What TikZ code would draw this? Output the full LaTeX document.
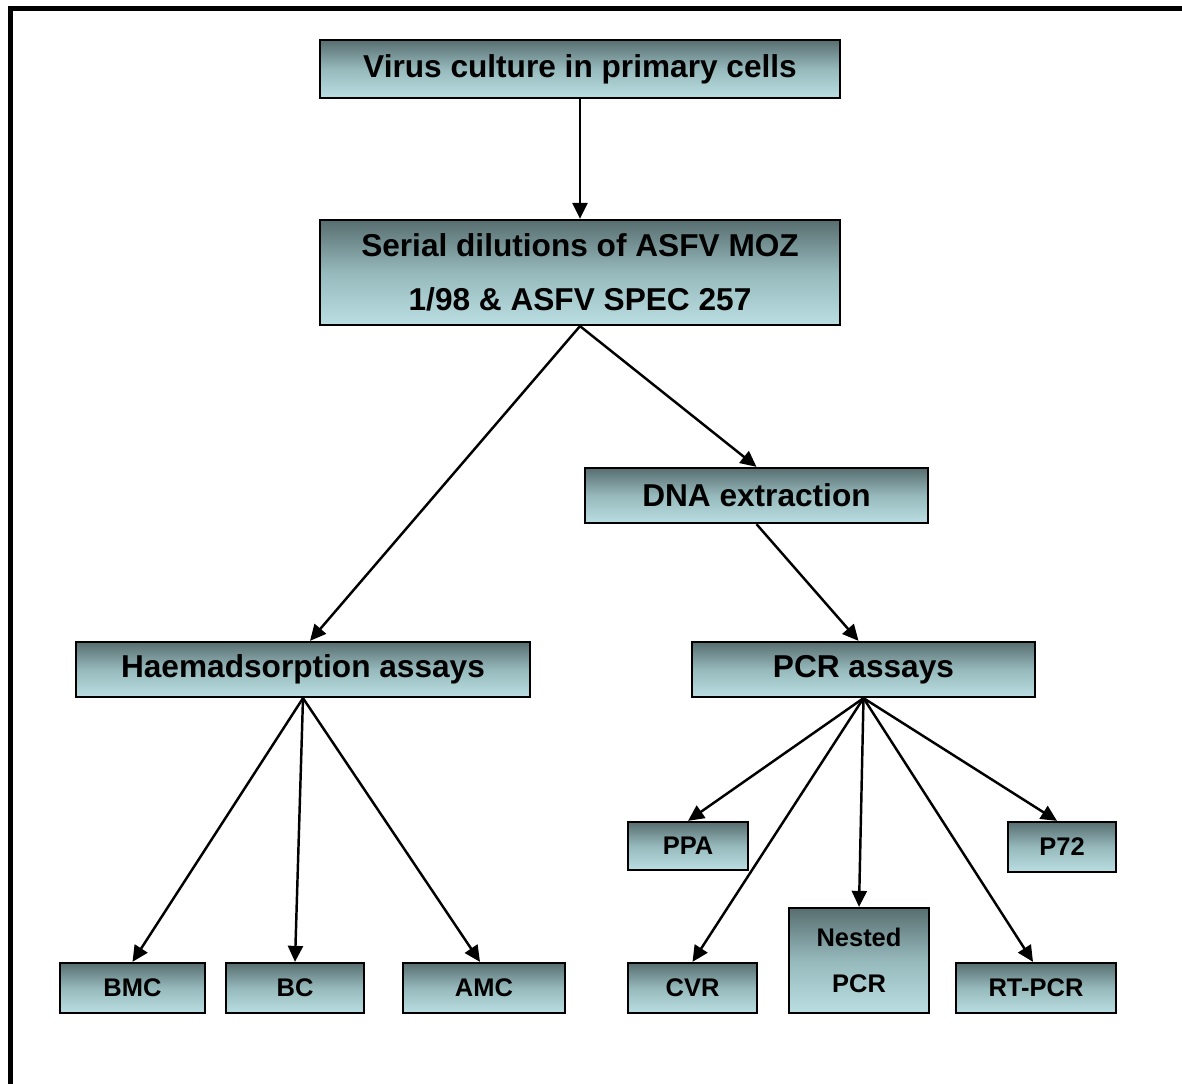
\documentclass[tikz,border=0pt]{standalone}
\usepackage{fontspec}
\setmainfont{Liberation Sans}
\usetikzlibrary{arrows.meta}
\definecolor{boxtop}{RGB}{88,110,112}
\definecolor{boxmid}{RGB}{150,185,188}
\definecolor{boxbot}{RGB}{186,222,225}
\begin{document}
\begin{tikzpicture}[x=0.02cm, y=-0.02cm, every node/.style={font=\bfseries\fontsize{18}{31}\selectfont}]
  \tikzstyle{box}=[draw,line width=1.3pt,inner sep=0pt,align=center,top color=boxtop,bottom color=boxbot,middle color=boxmid,minimum height=1.1cm]
  \tikzstyle{small}=[box,minimum height=1.0cm,font=\bfseries\fontsize{14.5}{26}\selectfont]
  \tikzstyle{arr}=[-{Triangle[length=0.32cm,width=0.3cm]},line width=1.4pt]
  \useasboundingbox (0,0) rectangle (1182,1084);
  \draw[line width=0.09cm] (10.3,1084) -- (10.3,8.3) -- (1182,8.3);
  % top of the chart
  \node[box,minimum width=10.4cm,minimum height=1.16cm] (virus) at (580,69) {Virus culture in primary cells};
  \node[box,minimum width=10.4cm,minimum height=2.1cm] (serial) at (580,272.5) {Serial dilutions of ASFV MOZ\\1/98 \& ASFV SPEC 257};
  \node[box,minimum width=6.86cm] (dna) at (756.5,495.5) {DNA extraction};
  \node[box,minimum width=9.08cm] (haem) at (303,669.5) {Haemadsorption assays};
  \node[box,minimum width=6.86cm] (pcr) at (863.5,669.5) {PCR assays};
  % haemadsorption branch
  \node[small,minimum width=2.9cm] (bmc) at (132.5,988) {BMC};
  \node[small,minimum width=2.76cm] (bc) at (295,988) {BC};
  \node[small,minimum width=3.24cm] (amc) at (484,988) {AMC};
  % PCR branch
  \node[small,minimum width=2.4cm,minimum height=0.96cm] (ppa) at (688,846) {PPA};
  \node[small,minimum width=2.16cm] (p72) at (1062,847) {P72};
  \node[small,minimum width=2.58cm] (cvr) at (692.5,988) {CVR};
  \node[small,minimum width=2.8cm,minimum height=2.1cm] (nested) at (859,960.5) {Nested\\PCR};
  \node[small,minimum width=3.2cm] (rtpcr) at (1036,988) {RT-PCR};
  \draw[arr] (virus) -- (serial);
  \draw[arr] (serial.south) -- ([xshift=0.14cm]haem.north);
  \draw[arr] (serial.south) -- (dna.north);
  \draw[arr] (dna.south) -- ([xshift=-0.1cm]pcr.north);
  \draw[arr] (haem.south) -- (bmc.north);
  \draw[arr] (haem.south) -- (bc.north);
  \draw[arr] (haem.south) -- ([xshift=-0.08cm]amc.north);
  \draw[arr] (pcr.south) -- (ppa.north);
  \draw[arr] (pcr.south) -- (cvr.north);
  \draw[arr] (pcr.south) -- (nested.north);
  \draw[arr] (pcr.south) -- ([xshift=-0.06cm]rtpcr.north);
  \draw[arr] (pcr.south) -- ([xshift=-0.1cm]p72.north);
\end{tikzpicture}
\end{document}
